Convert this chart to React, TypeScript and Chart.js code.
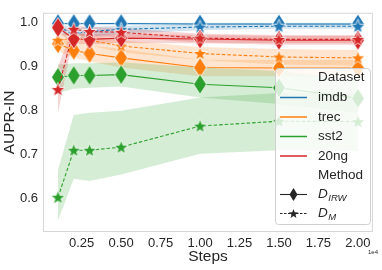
import React, { useEffect, useRef } from 'react';
import { Chart, registerables } from 'chart.js';
Chart.register(...registerables);

const steps = [0.1, 0.2, 0.3, 0.5, 1.0, 1.5, 2.0];
const xTicks = [0.25, 0.5, 0.75, 1.0, 1.25, 1.5, 1.75, 2.0];
const yTicks = [0.6, 0.7, 0.8, 0.9, 1.0];
const datasetNames = ['imdb', 'trec', 'sst2', '20ng'];
const methodNames = ['IRW', 'M'];
const colors = ['#1f77b4', '#ff7f0e', '#2ca02c', '#d62728'];

const imdbIRW = [0.998, 0.998, 0.998, 0.998, 0.997, 0.997, 0.997];
const imdbIRWLo = [0.995, 0.995, 0.995, 0.995, 0.994, 0.994, 0.994];
const imdbIRWHi = [1.0, 1.0, 1.0, 1.0, 1.0, 1.0, 1.0];
const imdbM = [0.99, 0.975, 0.98, 0.985, 0.99, 0.992, 0.992];
const imdbMLo = [0.98, 0.962, 0.968, 0.975, 0.983, 0.986, 0.986];
const imdbMHi = [0.998, 0.988, 0.99, 0.993, 0.996, 0.997, 0.997];

const trecIRW = [0.952, 0.937, 0.93, 0.92, 0.898, 0.897, 0.897];
const trecIRWLo = [0.935, 0.92, 0.912, 0.898, 0.878, 0.878, 0.878];
const trecIRWHi = [0.968, 0.955, 0.948, 0.94, 0.916, 0.915, 0.915];
const trecM = [0.96, 0.965, 0.96, 0.947, 0.93, 0.922, 0.92];
const trecMLo = [0.945, 0.955, 0.948, 0.933, 0.915, 0.905, 0.902];
const trecMHi = [0.975, 0.978, 0.972, 0.96, 0.945, 0.94, 0.938];

const sst2IRW = [0.876, 0.88, 0.88, 0.882, 0.86, 0.852, 0.828];
const sst2IRWLo = [0.84, 0.85, 0.852, 0.855, 0.83, 0.815, 0.795];
const sst2IRWHi = [0.905, 0.908, 0.908, 0.91, 0.898, 0.89, 0.87];
const sst2M = [0.603, 0.71, 0.71, 0.717, 0.765, 0.776, 0.775];
const sst2MLo = [0.55, 0.645, 0.64, 0.655, 0.702, 0.71, 0.708];
const sst2MHi = [0.665, 0.79, 0.795, 0.8, 0.83, 0.84, 0.84];

const ng20IRW = [0.989, 0.963, 0.962, 0.965, 0.963, 0.96, 0.96];
const ng20IRWLo = [0.978, 0.952, 0.951, 0.954, 0.953, 0.95, 0.95];
const ng20IRWHi = [1.0, 0.975, 0.973, 0.975, 0.972, 0.97, 0.97];
const ng20M = [0.848, 0.985, 0.98, 0.978, 0.965, 0.962, 0.962];
const ng20MLo = [0.795, 0.972, 0.97, 0.967, 0.955, 0.953, 0.953];
const ng20MHi = [0.9, 0.994, 0.99, 0.988, 0.975, 0.972, 0.972];

const series = [
  [[imdbIRW, imdbIRWLo, imdbIRWHi], [imdbM, imdbMLo, imdbMHi]],
  [[trecIRW, trecIRWLo, trecIRWHi], [trecM, trecMLo, trecMHi]],
  [[sst2IRW, sst2IRWLo, sst2IRWHi], [sst2M, sst2MLo, sst2MHi]],
  [[ng20IRW, ng20IRWLo, ng20IRWHi], [ng20M, ng20MLo, ng20MHi]],
];

function hexA(hex: string, a: number) {
  const r = parseInt(hex.slice(1, 3), 16), g = parseInt(hex.slice(3, 5), 16), b = parseInt(hex.slice(5, 7), 16);
  return `rgba(${r},${g},${b},${a})`;
}

function diamondPath(ctx: CanvasRenderingContext2D, cx: number, cy: number, w: number, h: number) {
  ctx.beginPath();
  ctx.moveTo(cx, cy - h / 2);
  ctx.lineTo(cx + w / 2, cy);
  ctx.lineTo(cx, cy + h / 2);
  ctx.lineTo(cx - w / 2, cy);
  ctx.closePath();
}
function starPath(ctx: CanvasRenderingContext2D, cx: number, cy: number, R: number) {
  const r = R * 0.42;
  ctx.beginPath();
  for (let i = 0; i < 10; i++) {
    const ang = -Math.PI / 2 + (i * Math.PI) / 5;
    const rad = i % 2 === 0 ? R : r;
    const px = cx + rad * Math.cos(ang), py = cy + rad * Math.sin(ang);
    if (i === 0) ctx.moveTo(px, py); else ctx.lineTo(px, py);
  }
  ctx.closePath();
}
function makeMarker(kind: string, color: string, edge: string) {
  const c = document.createElement('canvas');
  const W = kind === 'd' ? 16 : 17, H = kind === 'd' ? 24 : 17;
  c.width = W; c.height = H;
  const ctx = c.getContext('2d')!;
  if (kind === 'd') diamondPath(ctx, W / 2, H / 2, 13, 20);
  else starPath(ctx, W / 2, H / 2 + 0.5, 7.5);
  ctx.fillStyle = color;
  ctx.fill();
  ctx.strokeStyle = edge;
  ctx.lineWidth = 0.8;
  ctx.stroke();
  return c;
}

const FONT = "'Liberation Sans', Arial, sans-serif";

export default function App() {
  const ref = useRef<HTMLCanvasElement>(null);
  useEffect(() => {
    const datasets: any[] = [];
    let order = 1000;
    // bands
    series.forEach((s, di) => {
      s.forEach((m, mi) => {
        const lo = m[1], hi = m[2];
        const idx = datasets.length;
        datasets.push({
          data: steps.map((x, i) => ({ x, y: lo[i] })),
          borderWidth: 0, borderColor: 'transparent', pointRadius: 0, fill: false, order: order--,
        });
        datasets.push({
          data: steps.map((x, i) => ({ x, y: hi[i] })),
          borderWidth: 0, borderColor: 'transparent', pointRadius: 0,
          fill: { target: idx }, backgroundColor: hexA(colors[di], 0.2), order: order--,
        });
      });
    });
    series.forEach((s, di) => {
      s.forEach((m, mi) => {
        const vals = m[0];
        datasets.push({
          label: datasetNames[di] + ' ' + methodNames[mi],
          data: steps.map((x, i) => ({ x, y: vals[i] })),
          borderColor: colors[di], borderWidth: 1.1,
          borderDash: mi === 1 ? [3.5, 2] : [],
          pointStyle: makeMarker(mi === 0 ? 'd' : 's', colors[di], '#ffffff'),
          pointRadius: 8, fill: false, order: order--,
        });
      });
    });

    const legendPlugin = {
      id: 'customLegend',
      beforeDraw(chart: any) {
        const { ctx, chartArea: a } = chart;
        ctx.save();
        ctx.strokeStyle = '#d6d6d6';
        ctx.lineWidth = 1;
        ctx.strokeRect(a.left + 0.5, a.top + 0.5, a.right - a.left - 1, a.bottom - a.top - 1);
        ctx.restore();
      },
      afterDraw(chart: any) {
        const ctx = chart.ctx as CanvasRenderingContext2D;
        ctx.save();
        const bx = 275.5, by = 68.5, bw = 95, bh = 156, rr = 3;
        ctx.beginPath();
        ctx.moveTo(bx + rr, by);
        ctx.arcTo(bx + bw, by, bx + bw, by + bh, rr);
        ctx.arcTo(bx + bw, by + bh, bx, by + bh, rr);
        ctx.arcTo(bx, by + bh, bx, by, rr);
        ctx.arcTo(bx, by, bx + bw, by, rr);
        ctx.closePath();
        ctx.fillStyle = 'rgba(255,255,255,0.8)';
        ctx.fill();
        ctx.strokeStyle = '#d0d0d0';
        ctx.stroke();
        const tx = 318, hx0 = 280, hx1 = 307;
        const ys = [77.5, 97.5, 117, 136.5, 156, 175, 194.5, 213.5];
        ctx.fillStyle = '#262626';
        ctx.textBaseline = 'middle';
        ctx.font = `13.5px ${FONT}`;
        ctx.fillText('Dataset', tx, ys[0]);
        datasetNames.forEach((n, i) => {
          const y = ys[i + 1];
          ctx.strokeStyle = colors[i];
          ctx.lineWidth = 1.5;
          ctx.beginPath(); ctx.moveTo(hx0, y); ctx.lineTo(hx1, y); ctx.stroke();
          ctx.fillStyle = '#262626';
          ctx.fillText(n, tx, y);
        });
        ctx.fillText('Method', tx, ys[5]);
        // D_IRW
        const hc = (hx0 + hx1) / 2;
        ctx.strokeStyle = '#262626'; ctx.lineWidth = 1.1;
        ctx.beginPath(); ctx.moveTo(hx0, ys[6]); ctx.lineTo(hx1, ys[6]); ctx.stroke();
        diamondPath(ctx, hc, ys[6], 8, 13); ctx.fillStyle = '#262626'; ctx.fill();
        ctx.setLineDash([2.5, 1.5]);
        ctx.beginPath(); ctx.moveTo(hx0, ys[7]); ctx.lineTo(hx1, ys[7]); ctx.stroke();
        ctx.setLineDash([]);
        starPath(ctx, hc, ys[7] + 0.5, 5); ctx.fill();
        const sub = (main: string, s: string, y: number) => {
          ctx.font = `italic 13.5px ${FONT}`;
          ctx.fillStyle = '#262626';
          ctx.fillText(main, tx, y);
          const w = ctx.measureText(main).width;
          ctx.font = `italic 9.5px ${FONT}`;
          ctx.fillText(s, tx + w + 0.5, y + 3.5);
        };
        sub('D', 'IRW', ys[6]);
        sub('D', 'M', ys[7]);
        ctx.font = `6px ${FONT}`;
        ctx.textAlign = 'right';
        ctx.fillText('1e4', 378, 252);
        ctx.restore();
      },
    };

    const chart = new Chart(ref.current!, {
      type: 'line',
      data: { datasets },
      plugins: [legendPlugin],
      options: {
        animation: false,
        responsive: false,
        maintainAspectRatio: false,
        layout: { padding: { left: 0, top: 5, right: 5, bottom: 0 } },
        plugins: {
          legend: { display: false },
          tooltip: { enabled: false },
          filler: { drawTime: 'beforeDatasetsDraw' },
        },
        scales: {
          x: {
            type: 'linear', min: 0.005, max: 2.095,
            afterFit: (s: any) => { s.height = 38; },
            afterBuildTicks: (s: any) => { s.ticks = xTicks.map((v) => ({ value: v })); },
            grid: { display: false, drawTicks: false },
            border: { display: false },
            ticks: { color: '#262626', font: { size: 13, family: FONT }, padding: 4, maxRotation: 0, autoSkip: false,
              callback: (v: any) => Number(v).toFixed(2) },
            title: { display: true, text: 'Steps', color: '#262626', font: { size: 15.5, family: FONT }, padding: { top: 0, bottom: 4 } },
          },
          y: {
            type: 'linear', min: 0.524, max: 1.0225,
            afterFit: (s: any) => { s.width = 43; },
            afterBuildTicks: (s: any) => { s.ticks = yTicks.map((v) => ({ value: v })); },
            grid: { display: false, drawTicks: false },
            border: { display: false },
            ticks: { color: '#262626', font: { size: 13, family: FONT }, padding: 5,
              callback: (v: any) => Number(v).toFixed(1) },
            title: { display: true, text: 'AUPR-IN', color: '#262626', font: { size: 15.5, family: FONT }, padding: { top: 0, bottom: 0 } },
          },
        },
      },
    } as any);
    return () => chart.destroy();
  }, []);
  return (
    <div style={{ position: 'absolute', left: 0, top: 0, width: 382, height: 270, background: '#fff' }}>
      <canvas ref={ref} width={382} height={270} style={{ width: 382, height: 270 }} />
    </div>
  );
}
